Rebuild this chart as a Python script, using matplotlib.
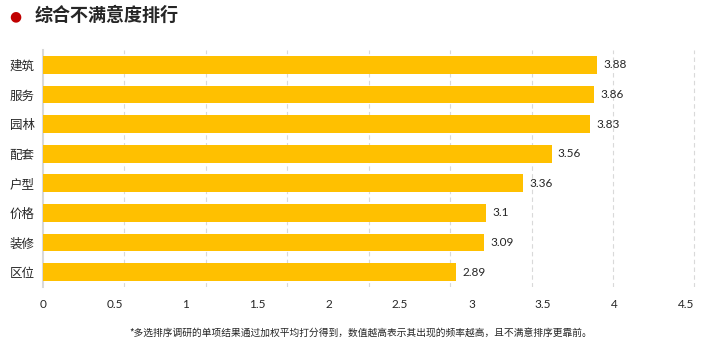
import matplotlib
matplotlib.use("Agg")
import matplotlib.pyplot as plt
import numpy as np

plt.rcParams['font.family'] = ['Noto Sans CJK SC', 'DejaVu Sans']

# 数据（自下而上）
categories = ["区位", "装修", "价格", "户型", "配套", "园林", "服务", "建筑"]
values = [2.89, 3.09, 3.1, 3.36, 3.56, 3.83, 3.86, 3.88]
xticks = [0, 0.5, 1, 1.5, 2, 2.5, 3, 3.5, 4, 4.5]
xtick_labels = ["0", "0.5", "1", "1.5", "2", "2.5", "3", "3.5", "4", "4.5"]

title = "综合不满意度排行"
note = "*多选排序调研的单项结果通过加权平均打分得到，数值越高表示其出现的频率越高，且不满意排序更靠前。"

fig = plt.figure(figsize=(7.22, 3.52), dpi=100)
ax = fig.add_axes([0.0596, 0.185, 0.91, 0.673])

y = np.arange(len(categories))
ax.barh(y, values, height=0.6, color="#FFC000", zorder=3)

for yi, v in zip(y, values):
    ax.text(v + 0.045, yi, f"{v:g}", va="center", ha="left", fontsize=8.5,
            color="#262626", family=["Lato", "Noto Sans CJK SC"])

ax.set_xlim(0, 4.6)
ax.set_ylim(-0.5, 7.5)
ax.set_yticks(y)
ax.set_yticklabels(categories, fontsize=9, color="#262626")
ax.set_xticks(xticks)
ax.set_xticklabels(xtick_labels, fontsize=8.5, color="#262626", family=["Lato", "Noto Sans CJK SC"])
ax.tick_params(axis="both", length=0)
ax.tick_params(axis="y", pad=6)
ax.tick_params(axis="x", pad=9)

# 网格线（原图中与刻度不对齐）
grid_pos = [0.57 * k for k in range(1, 9)]
for g in grid_pos:
    ax.axvline(g, color="#d9d9d9", linestyle=(0, (4, 3)), linewidth=0.8, zorder=1)

for s in ["top", "right", "bottom"]:
    ax.spines[s].set_visible(False)
ax.spines["left"].set_color("#d9d9d9")
ax.spines["left"].set_linewidth(1.5)

# 标题
fig.text(0.021, 0.955, "●", color="#C00000", fontsize=10, va="center", ha="center",
         family=["DejaVu Sans"])
fig.text(0.048, 0.955, title, fontsize=13, fontweight="bold", color="#262626",
         va="center", ha="left")

fig.text(0.5, 0.055, note, fontsize=7, color="#262626", ha="center", va="center")

fig.savefig("out.png", dpi=100)
